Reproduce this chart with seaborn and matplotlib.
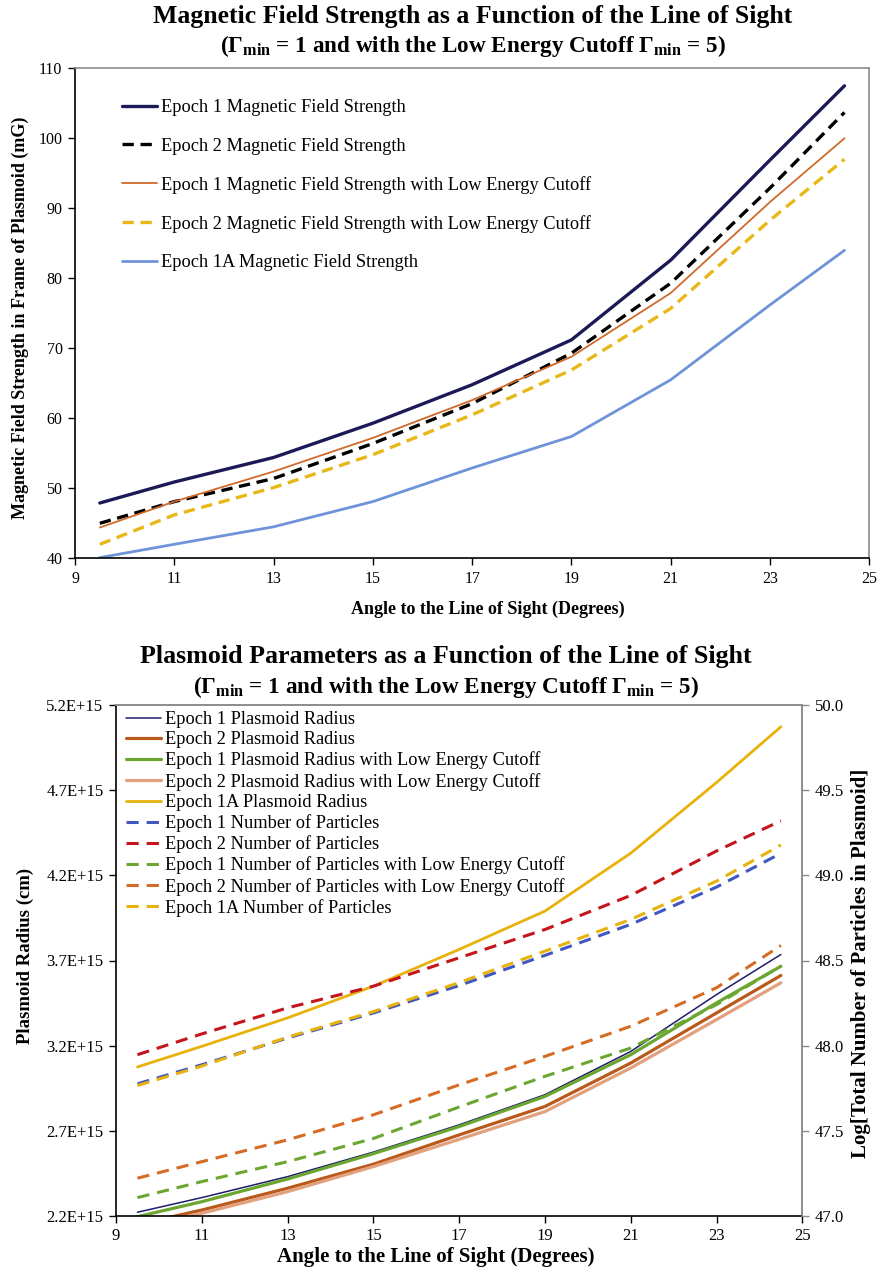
import matplotlib
matplotlib.use("Agg")
import matplotlib.pyplot as plt
import seaborn as sns
import pandas as pd
from matplotlib.ticker import FuncFormatter

# angle to the line of sight (degrees)
angle = [9.5, 11, 13, 15, 17, 19, 21, 23, 24.5]

# magnetic field strength (mG)
b_ep1 = [47.9, 50.9, 54.4, 59.3, 64.8, 71.2, 82.6, 96.9, 107.5]
b_ep2 = [45.0, 48.1, 51.4, 56.4, 62.1, 69.3, 79.3, 92.9, 103.7]
b_ep1_cut = [44.4, 48.1, 52.4, 57.2, 62.6, 68.8, 77.9, 90.9, 100.0]
b_ep2_cut = [42.0, 46.2, 50.1, 54.8, 60.5, 66.9, 75.7, 88.3, 97.0]
b_ep1a = [40.1, 42.0, 44.5, 48.1, 52.9, 57.4, 65.5, 76.2, 84.0]

# plasmoid radius (units of 1E+15 cm)
r_ep1 = [2.222, 2.308, 2.431, 2.575, 2.735, 2.912, 3.166, 3.500, 3.735]
r_ep2 = [2.150, 2.235, 2.363, 2.504, 2.676, 2.843, 3.098, 3.392, 3.612]
r_ep1_cut = [2.196, 2.284, 2.417, 2.566, 2.725, 2.902, 3.147, 3.451, 3.666]
r_ep2_cut = [2.130, 2.216, 2.343, 2.490, 2.650, 2.813, 3.069, 3.353, 3.569]
r_ep1a = [3.075, 3.196, 3.363, 3.549, 3.765, 3.990, 4.330, 4.745, 5.072]

# log total number of particles
n_ep1 = [47.776, 47.888, 48.045, 48.192, 48.353, 48.530, 48.712, 48.931, 49.129]
n_ep2 = [47.947, 48.069, 48.222, 48.349, 48.516, 48.682, 48.882, 49.143, 49.320]
n_ep1_cut = [47.108, 47.202, 47.319, 47.455, 47.640, 47.820, 47.986, 48.241, 48.467]
n_ep2_cut = [47.222, 47.319, 47.447, 47.594, 47.770, 47.937, 48.114, 48.340, 48.588]
n_ep1a = [47.766, 47.880, 48.050, 48.200, 48.370, 48.555, 48.741, 48.966, 49.178]

x_ticks = [9, 11, 13, 15, 17, 19, 21, 23, 25]
b_ticks = [40, 50, 60, 70, 80, 90, 100, 110]
r_ticks = [2.2e15, 2.7e15, 3.2e15, 3.7e15, 4.2e15, 4.7e15, 5.2e15]
n_ticks = [47.0, 47.5, 48.0, 48.5, 49.0, 49.5, 50.0]

sns.set_theme(style="ticks")
plt.rcParams["font.family"] = ["Liberation Serif", "DejaVu Serif"]
plt.rcParams["text.color"] = "black"
plt.rcParams["axes.labelcolor"] = "black"
plt.rcParams["mathtext.fontset"] = "custom"
plt.rcParams["mathtext.rm"] = "Liberation Serif:bold"
plt.rcParams["mathtext.bf"] = "Liberation Serif:bold"
plt.rcParams["mathtext.it"] = "Liberation Serif:bold:italic"

W, H = 881, 1275
fig = plt.figure(figsize=(W / 100, H / 100), dpi=100)

DASH = (0, (3.4, 2.0))
SUBTITLE = r"($\Gamma_{\mathrm{min}}$ = 1 and with the Low Energy Cutoff $\Gamma_{\mathrm{min}}$ = 5)"


def style_axes(ax, fs):
    for s in ["left", "bottom"]:
        ax.spines[s].set_color("black")
        ax.spines[s].set_linewidth(1.2)
    for s in ["top", "right"]:
        ax.spines[s].set_color("#8c8c8c")
        ax.spines[s].set_linewidth(1.2)
    ax.tick_params(direction="out", length=5, width=1, labelsize=fs,
                   colors="black", labelcolor="black", pad=4)


# ---------- top chart ----------
ax1 = fig.add_axes([75 / W, 1 - 558.3 / H, 794.3 / W, 490 / H])
top_series = [
    ("Epoch 1 Magnetic Field Strength", b_ep1, "#1c1957", 2.4, "-"),
    ("Epoch 2 Magnetic Field Strength", b_ep2, "#000000", 2.4, DASH),
    ("Epoch 1 Magnetic Field Strength with Low Energy Cutoff", b_ep1_cut, "#d06a2a", 1.3, "-"),
    ("Epoch 2 Magnetic Field Strength with Low Energy Cutoff", b_ep2_cut, "#e8b818", 2.4, DASH),
    ("Epoch 1A Magnetic Field Strength", b_ep1a, "#6f93d8", 2.0, "-"),
]
for lab, vals, col, lw, ls in top_series:
    sns.lineplot(x=angle, y=vals, ax=ax1, color=col, linewidth=lw,
                 linestyle=ls, label=lab, errorbar=None)

ax1.set_xlim(9, 25)
ax1.set_ylim(40, 110)
ax1.set_xticks(x_ticks)
ax1.set_yticks(b_ticks)
ax1.set_xlabel("")
ax1.set_ylabel("")
style_axes(ax1, 11.5)
ax1.legend(loc="upper left", bbox_to_anchor=(46.7 / 794.3, 1 - 31 / 490),
           frameon=False, fontsize=13.2, handlelength=1.9, handletextpad=0.25,
           labelspacing=1.16, borderpad=0, borderaxespad=0)

fig.text(473, H - 17, "Magnetic Field Strength as a Function of the Line of Sight",
         transform=None, ha="center", va="center", fontsize=18.5, fontweight="bold")
fig.text(473, H - 46, SUBTITLE, transform=None, ha="center", va="center",
         fontsize=16.7, fontweight="bold")
fig.text(488, H - 609, "Angle to the Line of Sight (Degrees)", transform=None,
         ha="center", va="center", fontsize=13, fontweight="bold")
fig.text(20, H - 318, "Magnetic Field Strength in Frame of Plasmoid (mG)",
         transform=None, ha="center", va="center", rotation=90,
         fontsize=13, fontweight="bold")

# ---------- bottom chart ----------
ax2 = fig.add_axes([116 / W, 1 - 1216 / H, 686.3 / W, 511 / H])
ax3 = ax2.twinx()

radius_series = [
    ("Epoch 1 Plasmoid Radius", r_ep1, "#1f1c6b", 1.1),
    ("Epoch 2 Plasmoid Radius", r_ep2, "#b95a1c", 2.3),
    ("Epoch 1 Plasmoid Radius with Low Energy Cutoff", r_ep1_cut, "#6ba630", 2.3),
    ("Epoch 2 Plasmoid Radius with Low Energy Cutoff", r_ep2_cut, "#e2a07c", 2.3),
    ("Epoch 1A Plasmoid Radius", r_ep1a, "#e8b20c", 2.0),
]
particle_series = [
    ("Epoch 1 Number of Particles", n_ep1, "#4056c0"),
    ("Epoch 2 Number of Particles", n_ep2, "#c4141c"),
    ("Epoch 1 Number of Particles with Low Energy Cutoff", n_ep1_cut, "#6ba630"),
    ("Epoch 2 Number of Particles with Low Energy Cutoff", n_ep2_cut, "#d56b24"),
    ("Epoch 1A Number of Particles", n_ep1a, "#e8b20c"),
]
for lab, vals, col, lw in radius_series:
    sns.lineplot(x=angle, y=[v * 1e15 for v in vals], ax=ax2, color=col,
                 linewidth=lw, label=lab, errorbar=None, legend=False)
for lab, vals, col in particle_series:
    sns.lineplot(x=angle, y=vals, ax=ax3, color=col, linewidth=2.2,
                 linestyle=(0, (4.0, 2.6)), label=lab, errorbar=None, legend=False)

ax2.set_xlim(9, 25)
ax2.set_ylim(2.2e15, 5.2e15)
ax2.set_xticks(x_ticks)
ax2.set_yticks(r_ticks)
ax2.yaxis.set_major_formatter(FuncFormatter(lambda v, p: f"{v / 1e15:.1f}E+15"))
ax3.set_ylim(47, 50)
ax3.set_yticks(n_ticks)
ax3.yaxis.set_major_formatter(FuncFormatter(lambda v, p: f"{v:.1f}"))
for a in (ax2, ax3):
    a.set_xlabel("")
    a.set_ylabel("")
    style_axes(a, 12)
ax3.spines["left"].set_visible(False)
ax3.spines["bottom"].set_visible(False)
ax3.yaxis.set_tick_params(color="#8c8c8c")

handles = ax2.get_lines() + ax3.get_lines()
labels = [h.get_label() for h in handles]
ax3.legend(handles, labels, loc="upper left", bbox_to_anchor=(10 / 686.3, 1 - 6 / 511),
           frameon=False, fontsize=13.2, handlelength=1.9, handletextpad=0.25,
           labelspacing=0.18, borderpad=0, borderaxespad=0)

fig.text(446, H - 656, "Plasmoid Parameters as a Function of the Line of Sight",
         transform=None, ha="center", va="center", fontsize=18.7, fontweight="bold")
fig.text(446, H - 687, SUBTITLE, transform=None, ha="center", va="center",
         fontsize=16.7, fontweight="bold")
fig.text(436, H - 1257, "Angle to the Line of Sight (Degrees)", transform=None,
         ha="center", va="center", fontsize=15, fontweight="bold")
fig.text(25, H - 956, "Plasmoid Radius (cm)", transform=None, ha="center",
         va="center", rotation=90, fontsize=13.5, fontweight="bold")
fig.text(861, H - 963, "Log[Total Number of Particles in Plasmoid]", transform=None,
         ha="center", va="center", rotation=90, fontsize=15, fontweight="bold")

fig.savefig("out.png", dpi=100)
